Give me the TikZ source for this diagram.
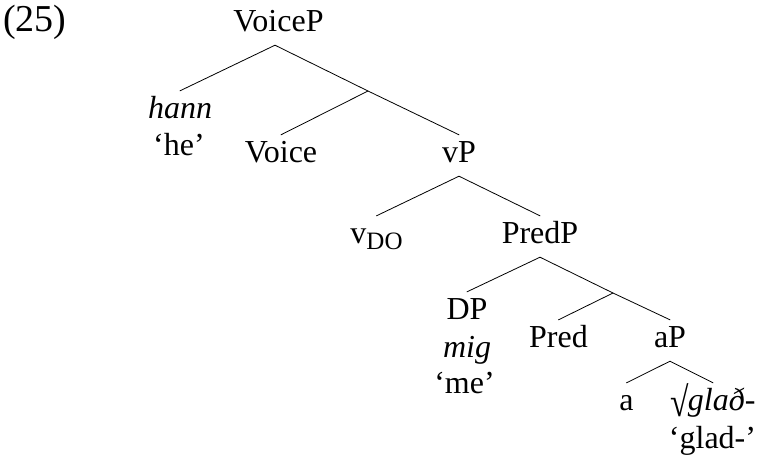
\documentclass[tikz,border=0pt]{standalone}
\usepackage{fontspec}
\setmainfont{Liberation Serif}
\begin{document}
\begin{tikzpicture}[x=1pt,y=-1pt,
  every node/.style={font=\fontsize{32}{37}\selectfont},
  cat/.style={anchor=base, inner xsep=0pt, inner ysep=5pt,
              text height=22pt, text depth=9pt},
  gloss/.style={anchor=base, inner sep=0pt},
  branch/.style={line width=0.8pt, line cap=round}]
\useasboundingbox (0,0) rectangle (759,459);

% example number
\node[anchor=base west, inner sep=0pt, font=\fontsize{38}{42}\selectfont] (exnum) at (3,31) {(25)};

% categories
\node[cat] (VoiceP) at (278.5,31) {VoiceP};
\node[cat] (hann)   at (180,118)  {\itshape hann};
\node[gloss] (he)   at (179,155)  {‘he’};
\coordinate (voicebar) at (368,91);
\node[cat] (Voice)  at (281,162)  {Voice};
\node[cat] (vP)     at (459,162)  {vP};
\node[cat] (vDO)    at (376.5,243) {v\raisebox{-6pt}{\fontsize{25}{25}\selectfont DO}};
\node[cat] (PredP)  at (540,243)  {PredP};
\node[cat] (DP)     at (467,319)  {DP};
\node[gloss] (mig)  at (467,357)  {\itshape mig};
\node[gloss] (me)   at (464.5,393) {‘me’};
\coordinate (predbar) at (613,293);
\node[cat] (Pred)   at (558.5,347) {Pred};
\node[cat] (aP)     at (670,347)  {aP};
\node[cat] (a)      at (626.5,410) {a};
\node[cat] (root)   at (713,410)  {\raisebox{-6pt}{\scalebox{1.05}[1.3]{√}}\kern-1pt\itshape glað-};
\node[gloss] (glad) at (712.5,448) {‘glad-’};

% branches
\draw[branch] ([xshift=-3.5pt]VoiceP.south) -- (hann.north);
\draw[branch] ([xshift=-3.5pt]VoiceP.south) -- (voicebar) -- (vP.north);
\draw[branch] (voicebar) -- (Voice.north);
\draw[branch] (vP.south) -- (vDO.north);
\draw[branch] (vP.south) -- (PredP.north);
\draw[branch] (PredP.south) -- (DP.north);
\draw[branch] (PredP.south) -- (predbar) -- (aP.north);
\draw[branch] (predbar) -- (Pred.north);
\draw[branch] (aP.south) -- (a.north);
\draw[branch] (aP.south) -- (root.north);
\end{tikzpicture}
\end{document}
